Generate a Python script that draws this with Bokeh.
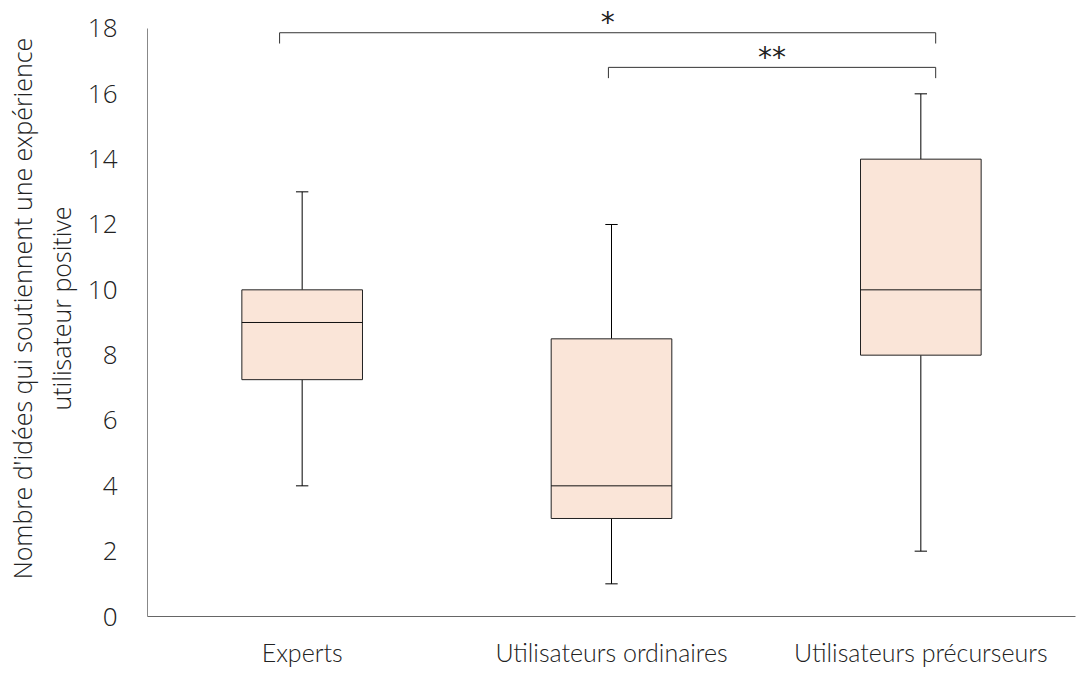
from bokeh.plotting import figure
from bokeh.models import FactorRange, Range1d, ColumnDataSource, FixedTicker
from bokeh.core.properties import value
from bokeh.embed import file_html
from bokeh.resources import INLINE

# ---- data ----
categories = ["Experts", "Utilisateurs ordinaires", "Utilisateurs précurseurs"]
whisker_low = [4, 1, 2]
q1 = [7.25, 3, 8]
median = [9, 4, 10]
q3 = [10, 8.5, 14]
whisker_high = [13, 12, 16]
y_ticks = [0, 2, 4, 6, 8, 10, 12, 14, 16, 18]
y_title = "Nombre d'idées qui soutiennent une expérience\nutilisateur positive"

sig_from = ["Experts", "Utilisateurs ordinaires"]
sig_to = ["Utilisateurs précurseurs", "Utilisateurs précurseurs"]
sig_labels = ["*", "**"]
sig_level = [17.87, 16.81]

# ---- styles ----
FILL = "#FAE5D8"
BOX_W = 0.39
CAP_W = 0.04
DROP = 0.33
from_off = [-0.073, -0.01]
to_off = [0.048, 0.048]

p = figure(x_range=FactorRange(*categories, range_padding=0),
           y_range=Range1d(0, 18.857),
           width=1085, height=671, output_backend="svg",
           toolbar_location=None, min_border_left=147, min_border_right=10,
           min_border_top=0, min_border_bottom=55)

src = ColumnDataSource(dict(cat=categories, lo=whisker_low, q1=q1, med=median,
                            q3=q3, hi=whisker_high))

# whiskers
p.segment(x0="cat", y0="lo", x1="cat", y1="q1", source=src, line_color="black", line_width=1)
p.segment(x0="cat", y0="q3", x1="cat", y1="hi", source=src, line_color="black", line_width=1)
# caps
p.segment(x0=[(c, -CAP_W / 2) for c in categories], y0=whisker_low,
          x1=[(c, CAP_W / 2) for c in categories], y1=whisker_low, line_color="black", line_width=1)
p.segment(x0=[(c, -CAP_W / 2) for c in categories], y0=whisker_high,
          x1=[(c, CAP_W / 2) for c in categories], y1=whisker_high, line_color="black", line_width=1)
# boxes
p.vbar(x="cat", bottom="q1", top="q3", width=BOX_W, source=src,
       fill_color=FILL, line_color="#222222", line_width=1)
# medians
p.segment(x0=[(c, -BOX_W / 2) for c in categories], y0=median,
          x1=[(c, BOX_W / 2) for c in categories], y1=median, line_color="#111111", line_width=1)

# significance brackets
for a, b, lab, lvl, fo, to in zip(sig_from, sig_to, sig_labels, sig_level, from_off, to_off):
    xs = [(a, fo), (a, fo), (b, to), (b, to)]
    ys = [lvl - DROP, lvl, lvl, lvl - DROP]
    p.line(x=xs, y=ys, line_color="#333333", line_width=1)
    ia = categories.index(a)
    ib = categories.index(b)
    mid = ((ia + 0.5 + fo) + (ib + 0.5 + to)) / 2
    mc = categories[int(mid)]
    p.text(x=[(mc, mid - int(mid) - 0.5)], y=[lvl], text=[lab], text_align="center",
           text_baseline="alphabetic", y_offset=-10, text_font=value("DejaVu Sans"),
           text_font_size="28px", text_color="#222222")

# axes
p.xgrid.visible = False
p.ygrid.visible = False
p.outline_line_color = None

p.yaxis.ticker = FixedTicker(ticks=y_ticks)
p.yaxis.bounds = (0, 18)
p.yaxis.axis_line_color = "#888888"
p.yaxis.major_tick_line_color = None
p.yaxis.minor_tick_line_color = None
p.yaxis.major_tick_out = 0
p.yaxis.major_tick_in = 0
p.yaxis.major_label_text_font = "Open Sans Light, Open Sans"
p.yaxis.major_label_text_font_size = "26px"
p.yaxis.major_label_text_color = "#222222"
p.yaxis.major_label_standoff = 30
p.yaxis.axis_label = y_title
p.yaxis.axis_label_text_font = "Open Sans Light, Open Sans"
p.yaxis.axis_label_text_font_size = "25px"
p.yaxis.axis_label_text_font_style = "normal"
p.yaxis.axis_label_text_color = "#222222"
p.yaxis.axis_label_text_line_height = 1.15
p.yaxis.axis_label_standoff = 7

p.xaxis.axis_line_color = "#666666"
p.xaxis.major_tick_line_color = None
p.xaxis.minor_tick_line_color = None
p.xaxis.major_tick_out = 0
p.xaxis.major_tick_in = 0
p.xaxis.major_label_text_font = "Lato Light, Lato"
p.xaxis.major_label_text_font_size = "25px"
p.xaxis.major_label_text_color = "#222222"
p.xaxis.major_label_text_line_height = 1.0
p.xaxis.major_label_standoff = 20

open("out.html", "w").write(file_html(p, INLINE))
